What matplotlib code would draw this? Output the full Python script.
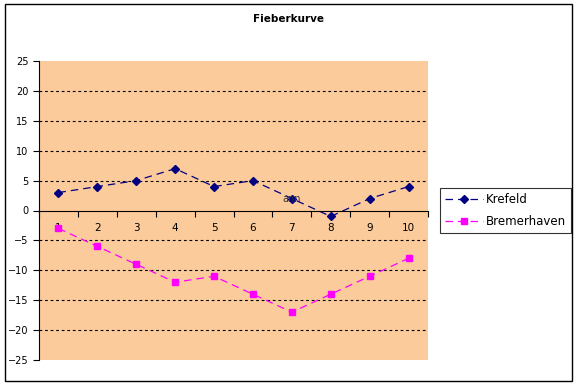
import matplotlib.pyplot as plt
from matplotlib.patches import Rectangle

# Daten
tage = [1, 2, 3, 4, 5, 6, 7, 8, 9, 10]
krefeld = [3, 4, 5, 7, 4, 5, 2, -1, 2, 4]
bremerhaven = [-3, -6, -9, -12, -11, -14, -17, -14, -11, -8]
y_ticks = [-25, -20, -15, -10, -5, 0, 5, 10, 15, 20, 25]

W, H = 577, 385
fig = plt.figure(figsize=(W / 100, H / 100), dpi=100)

# Rahmen um das Diagramm
fig.patches.append(Rectangle((5 / W, 4 / H), 567 / W, 377 / H, transform=fig.transFigure,
                             fill=False, edgecolor='black', linewidth=1))

ax = fig.add_axes([39 / W, 25 / H, 389 / W, 299 / H])
ax.set_facecolor('#FCCB9B')

ax.plot(tage, krefeld, color='#000080', linestyle=(0, (6, 4)), linewidth=0.9,
        marker='D', markersize=4.5, label='Krefeld')
ax.plot(tage, bremerhaven, color='#FF00FF', linestyle=(0, (6, 4)), linewidth=0.9,
        marker='s', markersize=4.5, label='Bremerhaven')

ax.text(7, 2, 'ann', ha='center', va='center', fontsize=7, color='#333333')

# Achsen
ax.set_xlim(0.5, 10.5)
ax.set_ylim(-25, 25)
ax.set_yticks(y_ticks)
ax.tick_params(axis='y', direction='out', length=4, labelsize=7, width=0.8)

for y in y_ticks:
    if y not in (0, -25, 25):
        ax.axhline(y, color='black', linestyle=(0, (2.5, 2.5)), linewidth=0.8, zorder=1)

ax.spines['top'].set_visible(False)
ax.spines['right'].set_visible(False)
ax.spines['bottom'].set_position(('data', 0))
ax.set_xticks(tage)
ax.set_xticks([x + 0.5 for x in range(0, 11)], minor=True)
ax.tick_params(axis='x', which='major', length=0, pad=9, labelsize=7.5)
ax.tick_params(axis='x', which='minor', direction='out', length=4, width=0.8)

# Titel
fig.text(288 / W, 1 - 19 / H, 'Fieberkurve', ha='center', va='center',
         fontsize=7.5, fontweight='bold')

leg = fig.legend(loc='upper left', bbox_to_anchor=(440 / W, 1 - 188 / H), fontsize=8.5,
                 frameon=True, fancybox=False, edgecolor='black', borderpad=0.45,
                 handlelength=3.2, handletextpad=0.2, labelspacing=0.75, borderaxespad=0)
leg.get_frame().set_linewidth(0.8)

plt.savefig('out.png', dpi=100)
